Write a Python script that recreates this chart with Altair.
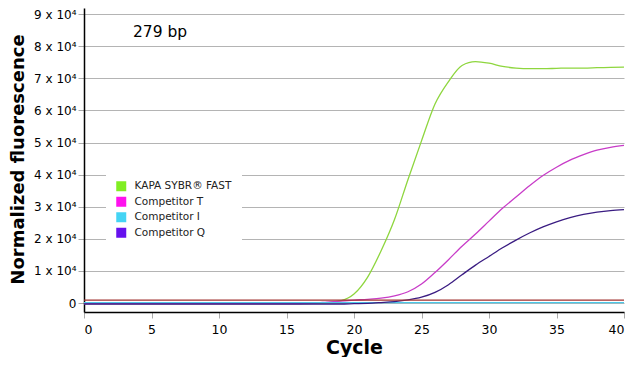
import altair as alt
import pandas as pd

cycles = list(range(0, 41))

kapa = [-200] * 17 + [-100, 150, 700, 2800, 8000, 16200, 26000, 38500, 50500, 62000,
                      69000, 74000, 75200, 74700, 73700, 73200, 73000, 73000, 73100,
                      73200, 73200, 73300, 73400, 73500]
comp_t = [-200] * 17 + [0, 300, 600, 900, 1150, 1500, 2200, 3500, 5900, 9500, 13500,
                        17700, 21500, 25500, 29500, 33000, 36500, 39700, 42300, 44500,
                        46200, 47600, 48500, 49100]
comp_i = [100] * 41
comp_q = [-300] * 20 + [-200, -100, 150, 450, 950, 1800, 3300, 5700, 8800, 11800, 14500,
                        17200, 19600, 21800, 23700, 25300, 26600, 27600, 28300, 28800, 29100]

series_names = ["KAPA SYBR® FAST", "Competitor T", "Competitor I", "Competitor Q"]
legend_colors = ["#80EE22", "#FF11EE", "#44D4F4", "#6611EE"]
line_colors = ["#8ED63E", "#C83CC8", "#4CC8E8", "#3A1C82"]
draw_order = ["Competitor I", "Competitor Q", "Competitor T", "KAPA SYBR® FAST"]

threshold = [900]
y_ticks = [0, 10000, 20000, 30000, 40000, 50000, 60000, 70000, 80000, 90000]
x_ticks = [0, 5, 10, 15, 20, 25, 30, 35, 40]
label_text = "279 bp"

rows = []
for name, vals in zip(series_names, [kapa, comp_t, comp_i, comp_q]):
    for c, v in zip(cycles, vals):
        rows.append({"cycle": c, "value": v, "series": name,
                     "order": draw_order.index(name)})
df = pd.DataFrame(rows)

FONT = "DejaVu Sans"

x_scale = alt.Scale(domain=[0, 40], nice=False, zero=False)
y_scale = alt.Scale(domain=[-2800, 91900], nice=False, zero=False)

x_axis = alt.Axis(values=x_ticks, grid=False, title="Cycle", titleFont=FONT,
                  titleFontSize=19, titleFontWeight="bold", titleColor="#000",
                  titleBaseline="alphabetic", titleY=41,
                  labelFont=FONT, labelFontSize=12.5, labelColor="#000",
                  domainColor="#000", domainWidth=1.5, tickColor="#aaa", tickSize=6,
                  labelPadding=5)
y_axis = alt.Axis(values=y_ticks, grid=True, gridColor="#b4b4b4", gridWidth=1,
                  title="Normalized fluorescence", titleFont=FONT, titleFontSize=18,
                  titleFontWeight="bold", titleColor="#000",
                  titleAngle=270, titleBaseline="alphabetic", titleAlign="center",
                  titleX=-61, titleY=151,
                  labelFont=FONT, labelFontSize=12, labelColor="#000", labelOverlap=False,
                  labelExpr="datum.value == 0 ? '0' : (datum.value / 10000) + ' x 10⁴'",
                  domainColor="#000", domainWidth=1.5, tickColor="#aaa", tickSize=6,
                  labelPadding=2)

base = alt.Chart(df)

lines = base.mark_line(interpolate="monotone", strokeWidth=1.3).encode(
    x=alt.X("cycle:Q", scale=x_scale, axis=x_axis),
    y=alt.Y("value:Q", scale=y_scale, axis=y_axis),
    stroke=alt.Stroke("series:N", scale=alt.Scale(domain=series_names, range=line_colors),
                      legend=None),
    detail="series:N",
    order="order:Q",
)

thr = alt.Chart(pd.DataFrame({"value": threshold})).mark_rule(
    color="#A0302E", strokeWidth=1.3).encode(
    y=alt.Y("value:Q", scale=y_scale, axis=y_axis),
)

legend_layer = base.transform_calculate(leg="datum.series").mark_square(
    size=100, opacity=0).encode(
    x=alt.X("cycle:Q", scale=x_scale, axis=x_axis),
    y=alt.Y("value:Q", scale=y_scale, axis=y_axis),
    fill=alt.Fill("leg:N",
                  scale=alt.Scale(domain=series_names, range=legend_colors),
                  sort=series_names,
                  legend=alt.Legend(title=None, orient="none", legendX=22, legendY=163,
                                    symbolType="square", symbolSize=100,
                                    symbolStrokeWidth=0, symbolOpacity=1,
                                    labelFont=FONT, labelFontSize=10.5, labelColor="#222",
                                    labelOffset=8, rowPadding=4.5, padding=10,
                                    fillColor="white")),
)

annot = alt.Chart(pd.DataFrame({"t": [label_text]})).mark_text(
    font=FONT, fontSize=15.5, align="left", baseline="middle", color="#000").encode(
    text="t:N", x=alt.value(49), y=alt.value(24))

chart = alt.layer(lines, thr, legend_layer, annot).properties(
    width=540, height=304,
    autosize=alt.AutoSizeParams(type="none"),
    padding={"left": 76, "top": 0, "right": 8, "bottom": 45},
).resolve_scale(fill="independent", stroke="independent").configure_view(stroke=None)

chart.save("out.html", embed_options={"renderer": "svg", "actions": False})
